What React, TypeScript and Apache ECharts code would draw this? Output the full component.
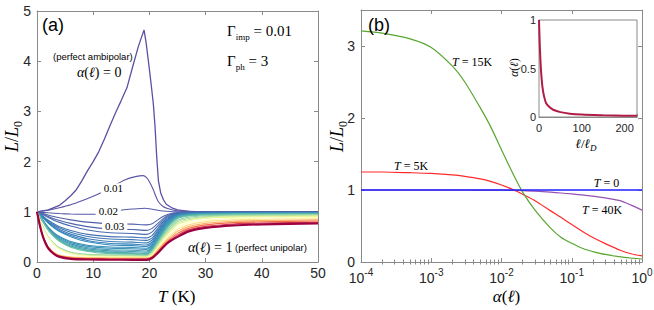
import React, { useEffect, useRef } from 'react';
import * as echarts from 'echarts';

// ---------------- Panel (a): L/L0 versus T ----------------
const A_T_RANGE = [0, 50];
const A_L_RANGE = [0, 5];

// alpha = 0 (perfect ambipolar)
const T_ALPHA0 = [0, 2, 4, 5, 6, 7, 8, 9, 10, 11, 12, 13, 14, 15, 16, 17, 18, 18.6, 19.05, 19.4, 19.8, 20.3, 20.7, 21, 21.3, 21.6, 22, 22.5, 23, 24, 25, 27, 30, 50];
const L_ALPHA0 = [1, 1.04, 1.13, 1.22, 1.32, 1.44, 1.62, 1.82, 2.0, 2.2, 2.45, 2.72, 2.98, 3.22, 3.47, 3.88, 4.28, 4.48, 4.62, 4.38, 4.02, 3.55, 3.15, 2.7, 2.1, 1.62, 1.38, 1.24, 1.15, 1.08, 1.04, 1.01, 1.0, 1.0];

// alpha = 0.01
const T_ALPHA001 = [0, 2, 4, 6, 8, 10, 11.2, 13, 15.7, 17.5, 18.9, 19.5, 20, 20.7, 21.1, 21.6, 22.5, 23.1, 24, 25, 27, 30, 50];
const L_ALPHA001 = [1, 1.03, 1.08, 1.14, 1.22, 1.31, 1.37, 1.48, 1.64, 1.7, 1.72, 1.68, 1.6, 1.44, 1.32, 1.2, 1.1, 1.07, 1.04, 1.02, 1.01, 1.0, 1.0];

// alpha = 0.02
const T_ALPHA002 = [0, 2, 4, 6, 8, 10.5, 13, 15.4, 17, 19.2, 20, 21, 22, 23, 25, 30, 50];
const L_ALPHA002 = [1, 0.98, 0.965, 0.955, 0.95, 0.95, 0.99, 1.04, 1.055, 1.07, 1.06, 1.04, 1.02, 1.01, 1.0, 1.0, 0.997];

// the family of curves from alpha = 0.03 up to alpha = 1 (perfect unipolar)
const T_BAND = [0, 0.5, 1, 1.5, 2, 3, 4, 6, 9, 13, 17, 19.5, 20.5, 21.5, 22.5, 23.5, 25, 27, 30, 35, 40, 50];
const ALPHA_BAND = [0.03, 0.04, 0.05, 0.06, 0.07, 0.08, 0.09, 0.1, 0.11, 0.12, 0.13, 0.14, 0.15, 0.17, 0.2, 0.25, 0.3, 0.35, 0.4, 0.5, 0.6, 0.7, 0.8, 0.9, 1.0];
const L_BAND = [
  [1, .99, .97, .95, .935, .905, .88, .84, .795, .76, .755, .74, .76, .84, .91, .955, .985, .995, .997, .996, .995, .993],
  [1, .982, .957, .932, .906, .863, .827, .77, .705, .658, .647, .63, .67, .77, .87, .935, .978, .99, .993, .993, .991, .99],
  [1, .978, .947, .916, .886, .833, .789, .718, .639, .582, .569, .55, .6, .72, .84, .915, .97, .985, .989, .988, .988, .988],
  [1, .964, .918, .873, .832, .76, .704, .628, .551, .505, .495, .48, .53, .67, .81, .895, .963, .98, .986, .986, .986, .986],
  [1, .961, .91, .86, .815, .737, .675, .591, .507, .457, .446, .43, .48, .63, .78, .875, .955, .975, .982, .983, .983, .984],
  [1, .957, .902, .848, .799, .713, .646, .555, .463, .408, .396, .38, .44, .6, .755, .86, .947, .97, .978, .98, .981, .981],
  [1, .955, .896, .838, .786, .695, .623, .526, .428, .37, .357, .34, .4, .565, .73, .845, .94, .965, .975, .977, .978, .979],
  [1, .952, .891, .83, .776, .68, .606, .504, .402, .34, .327, .31, .37, .54, .71, .83, .93, .96, .971, .974, .976, .977],
  [1, .929, .843, .764, .693, .585, .507, .407, .335, .3, .289, .275, .34, .51, .685, .815, .922, .955, .967, .971, .973, .975],
  [1, .926, .837, .756, .682, .571, .489, .386, .312, .275, .264, .25, .32, .49, .665, .8, .915, .95, .964, .969, .971, .972],
  [1, .923, .831, .746, .669, .553, .469, .361, .284, .245, .234, .22, .3, .47, .645, .785, .908, .945, .96, .966, .969, .97],
  [1, .921, .825, .738, .658, .539, .451, .34, .261, .221, .209, .195, .28, .45, .625, .77, .9, .94, .957, .964, .967, .968],
  [1, .918, .82, .729, .647, .524, .434, .319, .237, .196, .184, .17, .26, .43, .605, .755, .892, .935, .953, .961, .964, .966],
  [1, .917, .816, .724, .641, .516, .424, .307, .223, .182, .169, .157, .245, .415, .59, .74, .88, .928, .947, .956, .96, .962],
  [1, .915, .813, .72, .635, .507, .414, .295, .21, .167, .154, .143, .23, .4, .57, .715, .865, .915, .938, .948, .952, .954],
  [1, .844, .706, .593, .498, .369, .282, .196, .152, .139, .135, .13, .21, .37, .535, .675, .83, .89, .92, .934, .939, .942],
  [1, .843, .703, .589, .493, .361, .274, .186, .143, .129, .125, .12, .19, .345, .505, .64, .8, .865, .903, .92, .926, .931],
  [1, .841, .699, .584, .487, .354, .265, .177, .133, .119, .115, .11, .175, .325, .48, .61, .77, .84, .886, .906, .913, .92],
  [1, .839, .696, .579, .481, .347, .257, .168, .123, .109, .105, .1, .16, .305, .455, .585, .745, .82, .87, .893, .901, .908],
  [1, .837, .692, .575, .475, .339, .249, .158, .113, .1, .095, .09, .14, .275, .42, .545, .7, .78, .838, .866, .876, .885],
  [1, .744, .543, .405, .305, .195, .14, .103, .09, .085, .085, .082, .125, .25, .385, .505, .65, .74, .805, .839, .851, .862],
  [1, .741, .538, .399, .297, .186, .131, .094, .08, .075, .075, .072, .11, .23, .36, .47, .61, .705, .77, .812, .826, .839],
  [1, .738, .533, .392, .289, .177, .121, .084, .07, .065, .064, .062, .1, .21, .335, .44, .57, .67, .74, .785, .801, .816],
  [1, .735, .528, .386, .282, .168, .112, .074, .06, .055, .054, .052, .09, .195, .315, .42, .535, .64, .71, .758, .776, .793],
  [1, .733, .523, .379, .274, .16, .102, .064, .05, .045, .044, .042, .08, .18, .3, .4, .5, .61, .68, .73, .75, .77],
];

// ---------------- Panel (b): L/L0 versus alpha ----------------
const B_ALPHA_RANGE = [1e-4, 1];
const B_L_RANGE = [0, 3.5];
const ALPHA_B = [1e-4, 2e-4, 5e-4, 1e-3, 2e-3, 3e-3, 5e-3, 7e-3, 1e-2, 1.5e-2, 2e-2, 3e-2, 5e-2, 7e-2, 0.1, 0.15, 0.2, 0.3, 0.5, 0.7, 1];
const L_T0 = [1, 1, 1, 1, 1, 1, 1, 1, 1, 1, 1, 1, 1, 1, 1, 1, 1, 1, 1, 1, 1];
const L_T5 = [1.25, 1.25, 1.24, 1.23, 1.21, 1.19, 1.155, 1.12, 1.07, 1.0, 0.94, 0.85, 0.71, 0.62, 0.52, 0.41, 0.34, 0.255, 0.16, 0.115, 0.085];
const L_T15 = [3.21, 3.18, 3.1, 2.98, 2.72, 2.5, 2.14, 1.88, 1.56, 1.2, 0.97, 0.72, 0.47, 0.345, 0.26, 0.18, 0.145, 0.105, 0.07, 0.055, 0.042];
const L_T40 = [1, 1, 1, 1, 1, 1, 0.999, 0.998, 0.997, 0.995, 0.992, 0.985, 0.97, 0.958, 0.945, 0.928, 0.915, 0.89, 0.85, 0.79, 0.72];

// inset: alpha(l) versus l / l_D
const ELL = [0, 1, 2, 3.3, 5, 8, 12, 17, 25, 33, 50, 72, 100, 150, 200, 229];
const ALPHA_ELL = [1, 0.85, 0.72, 0.59, 0.46, 0.31, 0.21, 0.14, 0.1, 0.075, 0.05, 0.034, 0.025, 0.018, 0.013, 0.012];
const INSET_X_RANGE = [0, 229];
const INSET_Y_RANGE = [0, 1];

// ---------------- styles ----------------
const FRAME = '#8a8a8a';
const TXT = '#262626';
const SANS = '"Liberation Sans", Arial, Helvetica, sans-serif';
const SERIF = '"Liberation Serif", "DejaVu Serif", serif';
const SPECTRAL = ['#5e4fa2', '#3288bd', '#66c2a5', '#abdda4', '#e6f598', '#ffffbf', '#fee08b', '#fdae61', '#f46d43', '#d53e4f', '#9e0142'];

function hexToRgb(h: string) {
  return [parseInt(h.slice(1, 3), 16), parseInt(h.slice(3, 5), 16), parseInt(h.slice(5, 7), 16)];
}
function spectral(t: number) {
  const x = Math.max(0, Math.min(1, t)) * 10;
  const i = Math.min(9, Math.floor(x));
  const f = x - i;
  const a = hexToRgb(SPECTRAL[i]);
  const b = hexToRgb(SPECTRAL[i + 1]);
  const c = a.map((v, k) => Math.round(v + (b[k] - v) * f));
  return `rgb(${c[0]},${c[1]},${c[2]})`;
}

const axisLine = { show: true, onZero: false, lineStyle: { color: FRAME, width: 1 } };
const tick = (len = 4) => ({ show: true, inside: true, length: len, lineStyle: { color: FRAME, width: 1 } });
const label = (size = 14, margin = 5) => ({ color: TXT, fontFamily: SANS, fontSize: size, margin });

const MINOR_LOG: number[] = [];
for (let n = -4; n < 0; n++) for (let k = 2; k <= 9; k++) MINOR_LOG.push(n + Math.log10(k));

function lineSeries(xs: number[], ys: number[], color: string, width: number, xi: number, yi: number, smooth: number | boolean = 0.2) {
  return {
    type: 'line',
    xAxisIndex: xi,
    yAxisIndex: yi,
    data: xs.map((x, i) => [x, ys[i]]),
    symbol: 'none',
    showSymbol: false,
    smooth,
    silent: true,
    lineStyle: { color, width },
  };
}

function txt(x: number, y: number, text: string, rich: any, opts: any = {}) {
  return {
    type: 'text',
    x,
    y,
    z: 100,
    rotation: opts.rotation || 0,
    style: {
      text,
      rich,
      align: opts.align || 'left',
      verticalAlign: 'middle',
      backgroundColor: opts.bg,
      padding: opts.padding,
    },
  };
}

function buildOption() {
  const series: any[] = [];
  series.push(lineSeries(T_ALPHA0, L_ALPHA0, spectral(0), 1.3, 0, 0, false));
  series.push(lineSeries(T_ALPHA001, L_ALPHA001, spectral(0.01), 1.1, 0, 0));
  series.push(lineSeries(T_ALPHA002, L_ALPHA002, spectral(0.02), 1.1, 0, 0));
  ALPHA_BAND.forEach((a, k) => {
    series.push(lineSeries(T_BAND, L_BAND[k], spectral(a), a === 1 ? 2.2 : 1.1, 0, 0, 0.2));
  });

  series.push(lineSeries(ALPHA_B, L_T40, '#9650b4', 1.2, 2, 2, 0.25));
  series.push(lineSeries(ALPHA_B, L_T5, '#ff2a2a', 1.2, 2, 2, 0.25));
  series.push(lineSeries(ALPHA_B, L_T15, '#58a62f', 1.2, 2, 2, 0.25));
  series.push(lineSeries(ALPHA_B, L_T0, '#2020ff', 1.3, 2, 2, false));

  series.push(lineSeries(ELL, ALPHA_ELL, '#b01c45', 2, 6, 4, 0.3));

  const serifI = (size: number, color: string) => ({ fontFamily: SERIF, fontStyle: 'italic', fontSize: size, color, lineHeight: size + 5 });
  const serifN = (size: number, color: string) => ({ fontFamily: SERIF, fontSize: size, color, lineHeight: size + 5 });
  const sub = (size: number, color: string, font = SERIF, italic = false) => ({ fontFamily: font, fontStyle: italic ? 'italic' : 'normal', fontSize: size, color, lineHeight: size + 1, verticalAlign: 'bottom' });

  const labelBlue = '#3b3b9e';
  const crimson = '#b3284f';

  const graphic: any[] = [
    // panel (a)
    txt(42, 25, '{s|(a)}', { s: { fontFamily: SANS, fontSize: 18, color: '#111', lineHeight: 22 } }),
    txt(227, 31, '{g|Γ}{s|imp}{g| = 0.01}', { g: serifN(15, '#111'), s: sub(9, '#111') }),
    txt(227, 61, '{g|Γ}{s|ph}{g| = 3}', { g: serifN(15, '#111'), s: sub(9, '#111') }),
    txt(53, 56, '{s|(perfect ambipolar)}', { s: { fontFamily: SANS, fontSize: 9.5, color: '#4a4aa8', lineHeight: 11 } }),
    txt(77, 72.5, '{i|α}{n|(}{i|ℓ}{n|) = 0}', { i: serifI(14, '#4a4aa8'), n: serifN(14, '#4a4aa8') }),
    txt(113.3, 188.3, '{n|0.01}', { n: { fontFamily: SERIF, fontSize: 11, color: labelBlue, lineHeight: 10 } }, { align: 'center', bg: '#fff', padding: [0, 3] }),
    txt(108.3, 210.8, '{n|0.02}', { n: { fontFamily: SERIF, fontSize: 11, color: labelBlue, lineHeight: 9 } }, { align: 'center', bg: '#fff', padding: [0, 3] }),
    txt(114.7, 225.8, '{n|0.03}', { n: { fontFamily: SERIF, fontSize: 11, color: labelBlue, lineHeight: 9 } }, { align: 'center', bg: '#fff', padding: [0, 3] }),
    txt(188, 247, '{i|α}{n|(}{i|ℓ}{n|) = 1}{s| (perfect unipolar)}', { i: serifI(14, crimson), n: serifN(14, crimson), s: { fontFamily: SANS, fontSize: 9.5, color: crimson, lineHeight: 19 } }),
    txt(176.7, 296, '{i|T}{n| (K)}', { i: serifI(17, '#111'), n: serifN(17, '#111') }, { align: 'center' }),
    txt(12, 136.5, '{i|L}{n|/}{i|L}{s|0}', { i: serifI(18, '#111'), n: serifN(18, '#111'), s: sub(12, '#111') }, { align: 'center', rotation: Math.PI / 2 }),

    // panel (b)
    txt(368, 25, '{s|(b)}', { s: { fontFamily: SANS, fontSize: 18, color: '#111', lineHeight: 22 } }),
    txt(337, 136.5, '{i|L}{n|/}{i|L}{s|0}', { i: serifI(18, '#111'), n: serifN(18, '#111'), s: sub(12, '#111') }, { align: 'center', rotation: Math.PI / 2 }),
    txt(506.5, 296.5, '{i|α}{n|(}{i|ℓ}{n|)}', { i: serifI(17, '#111'), n: serifN(17, '#111') }, { align: 'center' }),
    txt(472, 62, '{i|T}{n| = 15K}', { i: serifI(12, '#3f8f22'), n: serifN(12, '#3f8f22') }, { align: 'center' }),
    txt(411, 166, '{i|T}{n| = 5K}', { i: serifI(12, '#ff2020'), n: serifN(12, '#ff2020') }, { align: 'center' }),
    txt(606.5, 182.5, '{i|T}{n| = 0}', { i: serifI(12, '#1e1eff'), n: serifN(12, '#1e1eff') }, { align: 'center' }),
    txt(602, 209.5, '{i|T}{n| = 40K}', { i: serifI(12, '#8a3fa6'), n: serifN(12, '#8a3fa6') }, { align: 'center' }),
    // inset titles
    txt(514, 67.5, '{i|α}{n|(}{i|ℓ}{n|)}', { i: serifI(11.5, '#111'), n: serifN(11.5, '#111') }, { align: 'center', rotation: Math.PI / 2 }),
    txt(586, 143.5, '{i|ℓ}{n|/}{i|ℓ}{s|D}', { i: serifI(13, '#111'), n: serifN(13, '#111'), s: sub(9, '#111', SERIF, true) }, { align: 'center' }),
  ];

  const logFmt = (v: number) => `{b|10}{s|${Math.round(Math.log10(v))}}`;
  const logRich = {
    b: { fontFamily: SANS, fontSize: 14, color: TXT, lineHeight: 18, verticalAlign: 'bottom' },
    s: { fontFamily: SANS, fontSize: 10, color: TXT, lineHeight: 7, verticalAlign: 'top' },
  };

  return {
    animation: false,
    backgroundColor: '#fff',
    grid: [
      { left: 37, top: 11, width: 281, height: 251, outerBoundsMode: 'none' },
      { left: 361, top: 10, width: 281, height: 252, outerBoundsMode: 'none' },
      { left: 539, top: 20, width: 98, height: 97, show: true, backgroundColor: '#fff', borderColor: FRAME, borderWidth: 1, outerBoundsMode: 'none', z: 3 },
    ],
    xAxis: [
      { gridIndex: 0, type: 'value', min: A_T_RANGE[0], max: A_T_RANGE[1], interval: 10, position: 'bottom', axisLine, axisTick: tick(), axisLabel: label(14, 4), splitLine: { show: false } },
      { gridIndex: 0, type: 'value', min: A_T_RANGE[0], max: A_T_RANGE[1], interval: 10, position: 'top', axisLine, axisTick: tick(), axisLabel: { show: false }, splitLine: { show: false } },
      { gridIndex: 1, type: 'log', logBase: 10, min: B_ALPHA_RANGE[0], max: B_ALPHA_RANGE[1], position: 'bottom', axisLine, axisTick: tick(), axisLabel: { formatter: logFmt, rich: logRich, margin: 5 }, splitLine: { show: false }, minorTick: { show: false } },
      { gridIndex: 1, type: 'log', logBase: 10, min: B_ALPHA_RANGE[0], max: B_ALPHA_RANGE[1], position: 'top', axisLine, axisTick: tick(), axisLabel: { show: false }, splitLine: { show: false } },
      { gridIndex: 1, type: 'value', min: -4, max: 0, position: 'bottom', axisLine: { show: false }, axisTick: { show: true, inside: true, length: 2.5, lineStyle: { color: FRAME }, customValues: MINOR_LOG }, axisLabel: { show: false }, splitLine: { show: false } },
      { gridIndex: 1, type: 'value', min: -4, max: 0, position: 'top', axisLine: { show: false }, axisTick: { show: true, inside: true, length: 2.5, lineStyle: { color: FRAME }, customValues: MINOR_LOG }, axisLabel: { show: false }, splitLine: { show: false } },
      { gridIndex: 2, type: 'value', min: INSET_X_RANGE[0], max: INSET_X_RANGE[1], interval: 100, position: 'bottom', axisLine, axisTick: tick(3), axisLabel: { ...label(11, 5), formatter: (v: number) => (v % 100 === 0 ? String(v) : '') }, splitLine: { show: false } },
    ],
    yAxis: [
      { gridIndex: 0, type: 'value', min: A_L_RANGE[0], max: A_L_RANGE[1], interval: 1, position: 'left', axisLine, axisTick: tick(), axisLabel: label(14, 6), splitLine: { show: false } },
      { gridIndex: 0, type: 'value', min: A_L_RANGE[0], max: A_L_RANGE[1], interval: 1, position: 'right', axisLine, axisTick: tick(), axisLabel: { show: false }, splitLine: { show: false } },
      { gridIndex: 1, type: 'value', min: B_L_RANGE[0], max: B_L_RANGE[1], interval: 1, position: 'left', axisLine, axisTick: tick(), axisLabel: { ...label(14, 6), formatter: (v: number) => (Number.isInteger(v) ? String(v) : '') }, splitLine: { show: false } },
      { gridIndex: 1, type: 'value', min: B_L_RANGE[0], max: B_L_RANGE[1], interval: 1, position: 'right', axisLine, axisTick: tick(), axisLabel: { show: false }, splitLine: { show: false } },
      { gridIndex: 2, type: 'value', min: INSET_Y_RANGE[0], max: INSET_Y_RANGE[1], interval: 0.5, position: 'left', axisLine, axisTick: tick(3), axisLabel: label(11, 3), splitLine: { show: false } },
    ],
    series,
    graphic,
  };
}

export default function App() {
  const ref = useRef<HTMLDivElement>(null);
  useEffect(() => {
    if (!ref.current) return;
    const chart = echarts.init(ref.current, undefined, { renderer: 'svg' });
    chart.setOption(buildOption() as any);
    return () => chart.dispose();
  }, []);
  return <div ref={ref} style={{ position: 'absolute', left: 0, top: 0, width: 654, height: 310, background: '#fff' }} />;
}
